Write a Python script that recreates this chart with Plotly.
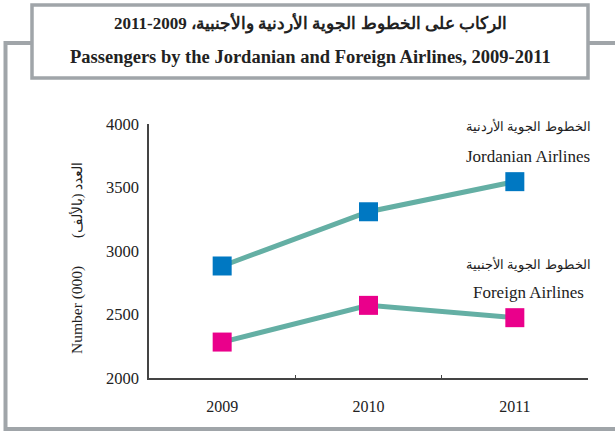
import plotly.graph_objects as go

W, H = 615, 433

years = ["2009", "2010", "2011"]
jordanian = [2882, 3309, 3546]
foreign = [2283, 2572, 2475]
y_ticks = [2000, 2500, 3000, 3500, 4000]

LINE = "#64AFA4"
BLUE = "#0078C2"
PINK = "#EA008B"
FRAME = "#A0A5A9"
INK = "#222222"
SERIF = "Liberation Serif, Times New Roman, serif"


def px(x, y):
    # pixel position -> paper fraction (margins are zero)
    return x / W, 1 - y / H


fig = go.Figure()
for vals, col in [(jordanian, BLUE), (foreign, PINK)]:
    fig.add_trace(go.Scatter(
        x=years, y=vals, mode="lines+markers",
        line=dict(color=LINE, width=5),
        marker=dict(symbol="square", size=19, color=col, line=dict(width=0)),
        showlegend=False, hoverinfo="skip",
    ))

# frames
shapes = [
    dict(type="rect", xref="paper", yref="paper",
         x0=5.5 / W, x1=640 / W, y0=1 - 429 / H, y1=1 - 43 / H,
         line=dict(color=FRAME, width=4), fillcolor="rgba(0,0,0,0)", layer="below"),
    dict(type="rect", xref="paper", yref="paper",
         x0=32 / W, x1=588 / W, y0=1 - 78 / H, y1=1 - 5 / H,
         line=dict(color=FRAME, width=3.5), fillcolor="white", layer="below"),
]

notes = [
    ("الركاب على الخطوط الجوية الأردنية والأجنبية، 2009-2011", 310, 23, 17, True, 0),
    ("Passengers by the Jordanian and Foreign Airlines, 2009-2011", 310, 57, 18.5, True, 0),
    ("الخطوط الجوية الأردنية", 528, 127, 13, False, 0),
    ("Jordanian Airlines", 528, 156, 17, False, 0),
    ("الخطوط الجوية الأجنبية", 528, 264, 13, False, 0),
    ("Foreign Airlines", 528, 292, 17, False, 0),
    ("Number (000)", 77, 310, 15.5, False, -90),
    ("العدد (بالألف)", 77, 200, 14, False, -90),
]
annotations = []
for text, x, y, size, bold, ang in notes:
    ax, ay = px(x, y)
    annotations.append(dict(
        text=f"<b>{text}</b>" if bold else text,
        xref="paper", yref="paper", x=ax, y=ay,
        xanchor="center", yanchor="middle", showarrow=False,
        textangle=ang,
        font=dict(family=SERIF, size=size, color=INK),
    ))

fig.update_layout(
    width=W, height=H,
    margin=dict(l=0, r=0, t=0, b=0),
    paper_bgcolor="white", plot_bgcolor="white",
    font=dict(family=SERIF, size=16, color=INK),
    shapes=shapes,
    annotations=annotations,
    xaxis=dict(
        domain=[149 / W, 588 / W], automargin=False,
        type="category", range=[-0.5, 2.5],
        showline=True, linecolor="#444444", linewidth=1.5,
        ticks="inside", ticklen=3, tickcolor="#444444", tickson="boundaries",
        ticklabelstandoff=13,
        showgrid=False, zeroline=False,
        tickfont=dict(family=SERIF, size=16, color=INK),
    ),
    yaxis=dict(
        domain=[1 - 378 / H, 1 - 124 / H], automargin=False,
        range=[2000, 4000], tickvals=y_ticks,
        showline=True, linecolor="#444444", linewidth=1.5,
        ticks="", ticklabelstandoff=5,
        showgrid=False, zeroline=False,
        tickfont=dict(family=SERIF, size=16.5, color=INK),
    ),
)

fig.write_html(
    "out.html",
    config={"displayModeBar": False},
    post_script="document.body.style.margin='0';",
)
